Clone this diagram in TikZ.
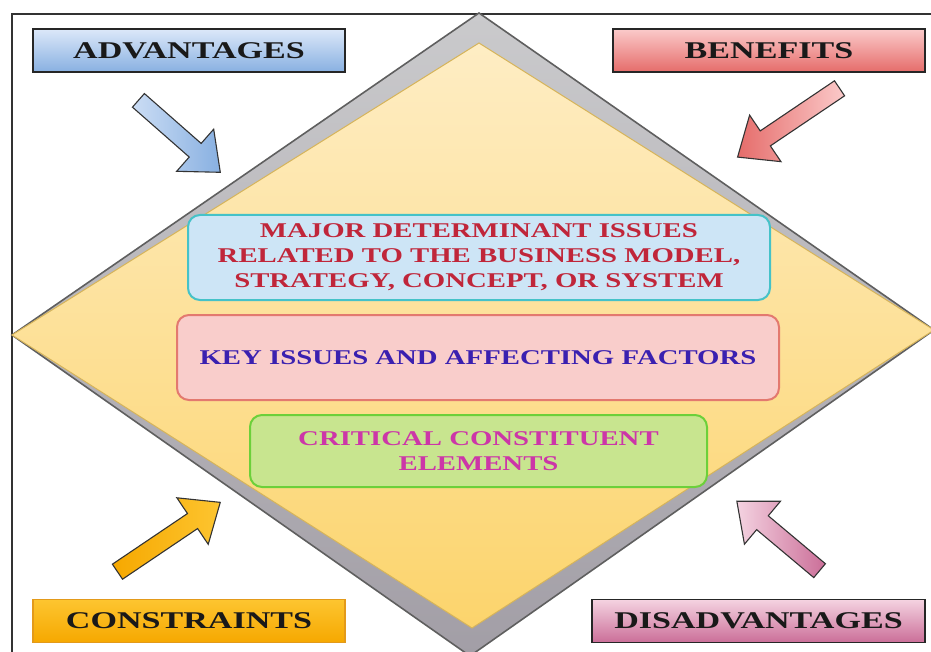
\documentclass[tikz,border=0pt]{standalone}
\usepackage{fontspec}
\usepackage{graphicx}
\setmainfont{Liberation Serif}
\usetikzlibrary{shapes.arrows}

% colours
\definecolor{frameline}{HTML}{333333}
\definecolor{bandtop}{HTML}{CACACC}
\definecolor{bandbot}{HTML}{A29EA6}
\definecolor{bandline}{HTML}{5F5F5F}
\definecolor{diatop}{HTML}{FEEDC4}
\definecolor{diabot}{HTML}{FCD46C}
\definecolor{dialine}{HTML}{D6B45A}
\definecolor{advtop}{HTML}{DCE8F9}
\definecolor{advbot}{HTML}{88B0E1}
\definecolor{bentop}{HTML}{FBCACA}
\definecolor{benbot}{HTML}{E56C6A}
\definecolor{contop}{HTML}{FDC530}
\definecolor{conbot}{HTML}{F6A800}
\definecolor{conline}{HTML}{E39A1A}
\definecolor{distop}{HTML}{F4D3E1}
\definecolor{disbot}{HTML}{CB6E98}
\definecolor{mdfill}{HTML}{CDE5F6}
\definecolor{mdline}{HTML}{45C2C8}
\definecolor{mdtext}{HTML}{C0263A}
\definecolor{kifill}{HTML}{F9CDCB}
\definecolor{kiline}{HTML}{E3796F}
\definecolor{kitext}{HTML}{3A20B0}
\definecolor{cefill}{HTML}{C8E58F}
\definecolor{celine}{HTML}{6CD03A}
\definecolor{cetext}{HTML}{CC36A8}

% horizontally widened lettering
\newcommand\wide[1]{\scalebox{1.42}[1]{#1}}
\newcommand\widem[1]{\scalebox{1.37}[1]{#1}}

\tikzset{
  labelbox/.style={draw=#1, line width=1.2pt, minimum height=43pt,
    inner sep=0pt, font=\fontsize{24}{28}\selectfont\bfseries,
    text=black!90},
  issuebox/.style={rounded corners=12pt, line width=2pt, inner sep=0pt,
    font=\fontsize{21}{25}\selectfont\bfseries, align=center},
  blockarrow/.style={single arrow, draw=black!80, line width=1.1pt,
    inner xsep=0pt, inner ysep=8.5pt, text height=0pt, text depth=0pt,
    single arrow head extend=19pt, single arrow tip angle=80,
    anchor=tail}
}

\begin{document}
\begin{tikzpicture}[x=1pt, y=-1pt]
\useasboundingbox (0,0) rectangle (931,652);
\clip (0,0) rectangle (931,652);

% outer frame (runs off the right and lower edges)
\draw[frameline, line width=2.6pt] (12,14) rectangle (960,680);

% grey band behind the diamond
\shade[top color=bandtop, bottom color=bandbot]
  (479,13) -- (934,330) -- (470,656) -- (12,335) -- cycle;
\draw[bandline, line width=1.6pt]
  (479,13) -- (934,330) -- (470,656) -- (12,335) -- cycle;

% yellow diamond
\shade[top color=diatop, bottom color=diabot]
  (479,43) -- (934,330) -- (472,628) -- (12,335) -- cycle;
\draw[dialine, line width=1pt]
  (479,43) -- (934,330) -- (472,628) -- (12,335) -- cycle;

% corner labels
\node[labelbox=black!85, top color=advtop, bottom color=advbot,
  minimum width=312pt] (adv) at (189,50.5) {\wide{ADVANTAGES}};
\node[labelbox=black!85, top color=bentop, bottom color=benbot,
  minimum width=312pt] (ben) at (769,50.5) {\wide{BENEFITS}};
\node[labelbox=conline, top color=contop, bottom color=conbot,
  minimum width=312pt] (con) at (189,621) {\wide{CONSTRAINTS}};
\node[labelbox=black!85, top color=distop, bottom color=disbot,
  minimum width=333pt] (dis) at (758.5,621) {\wide{DISADVANTAGES}};

% block arrows pointing into the diamond
\node[blockarrow, left color=advtop!80!advbot, right color=advbot,
  minimum height=109pt, rotate=-41.3] (advArrow) at (138,100) {};
\node[blockarrow, left color=benbot, right color=bentop,
  minimum height=123pt, rotate=-146] (benArrow) at (840,88) {};
\node[blockarrow, left color=conbot, right color=contop,
  minimum height=124pt, rotate=34] (conArrow) at (117,572) {};
\node[blockarrow, left color=distop, right color=disbot,
  minimum height=108pt, rotate=140] (disArrow) at (820,571) {};

% issue boxes
\node[issuebox, draw=mdline, fill=mdfill, text=mdtext,
  minimum width=582pt, minimum height=85pt] (major) at (479,257.5)
  {\widem{MAJOR DETERMINANT ISSUES}\\
   \widem{RELATED TO THE BUSINESS MODEL,}\\
   \widem{STRATEGY, CONCEPT, OR SYSTEM}};
\node[issuebox, draw=kiline, fill=kifill, text=kitext,
  minimum width=602pt, minimum height=85pt] (key) at (478,357.5)
  {\widem{KEY ISSUES AND AFFECTING FACTORS}};
\node[issuebox, draw=celine, fill=cefill, text=cetext,
  minimum width=457pt, minimum height=72pt] (crit) at (478.5,451)
  {\widem{CRITICAL CONSTITUENT}\\ \widem{ELEMENTS}};
\end{tikzpicture}
\end{document}
